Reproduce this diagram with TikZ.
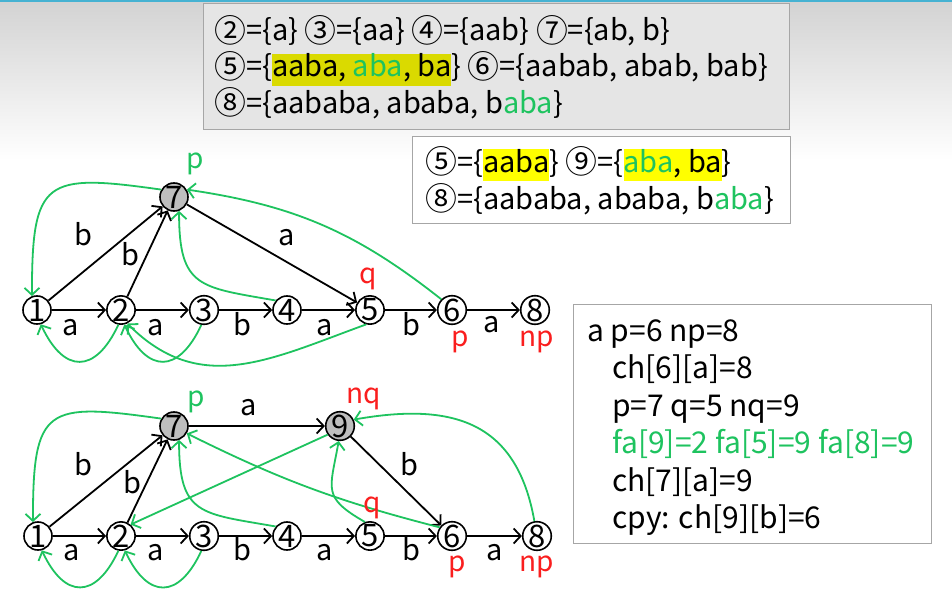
\documentclass[tikz,border=0pt]{standalone}
\usepackage{fontspec}
\setmainfont{Noto Sans CJK SC}
\usetikzlibrary{arrows.meta}
\definecolor{lkgreen}{RGB}{30,195,95}
\definecolor{mkred}{RGB}{250,30,30}
\definecolor{hlold}{RGB}{218,218,0}
\definecolor{hlnew}{RGB}{255,255,0}
\definecolor{stgray}{RGB}{190,190,190}
\definecolor{barcyan}{RGB}{70,178,210}
\setlength{\fboxsep}{0pt}
\newcommand{\hlt}[2]{\colorbox{#1}{\rule[-0.3em]{0pt}{1.1em}#2}}
\newcommand{\cn}[1]{\raisebox{-0.04em}{\scalebox{1.1}{#1}}}
\tikzset{
  >={Straight Barb[length=7pt,width=15pt]},
  st/.style={circle, draw, line width=1.6pt, minimum size=28pt, inner sep=0pt, font=\fontsize{31}{31}\selectfont},
  tr/.style={->, line width=1.8pt},
  lk/.style={->, line width=1.8pt, lkgreen},
  el/.style={anchor=base, inner sep=0pt, font=\fontsize{29}{29}\selectfont},
  mk/.style={anchor=base, inner sep=0pt, font=\fontsize{28}{28}\selectfont},
  txt/.style={anchor=base west, inner sep=0pt, font=\fontsize{29}{29}\selectfont},
  box/.style={draw=gray!70, line width=1pt}
}
\begin{document}
\begin{tikzpicture}[x=1pt,y=1pt]
\useasboundingbox (0,0) rectangle (952,-594);
\fill[white] (0,0) rectangle (952,-594);
\shade[top color=gray!35, bottom color=white] (0,0) rectangle (952,-160);
\fill[barcyan] (0,0) rectangle (952,-2.5);
\draw[box, fill=gray!20] (203,-4) rectangle (789,-129);
\node[txt] (r1) at (214,-41) {\cn{②}=\{a\} \cn{③}=\{aa\} \cn{④}=\{aab\} \cn{⑦}=\{ab, b\}};
\node[txt] (r2) at (214,-77) {\cn{⑤}=\{\hlt{hlold}{aaba, \textcolor{lkgreen}{aba}, ba}\} \cn{⑥}=\{aabab, abab, bab\}};
\node[txt] (r3) at (214,-113) {\cn{⑧}=\{aababa, ababa, b\textcolor{lkgreen}{aba}\}};
\draw[box, fill=white] (412,-136) rectangle (790,-223);
\node[txt] (n1) at (425,-172) {\cn{⑤}=\{\hlt{hlnew}{aaba}\} \cn{⑨}=\{\hlt{hlnew}{\textcolor{lkgreen}{aba}, ba}\}};
\node[txt] (n2) at (425,-209) {\cn{⑧}=\{aababa, ababa, b\textcolor{lkgreen}{aba}\}};
\draw[box, fill=white] (573,-304) rectangle (931,-543);
\node[txt, font=\fontsize{30}{30}\selectfont] (c1) at (587,-341) {a p=6 np=8};
\node[txt, font=\fontsize{30}{30}\selectfont] (c2) at (612,-378.5) {ch[6][a]=8};
\node[txt, font=\fontsize{30}{30}\selectfont] (c3) at (612,-416) {p=7 q=5 nq=9};
\node[txt, font=\fontsize{30}{30}\selectfont, text=lkgreen] (c4) at (612,-453.5) {fa[9]=2 fa[5]=9 fa[8]=9};
\node[txt, font=\fontsize{30}{30}\selectfont] (c5) at (612,-491) {ch[7][a]=9};
\node[txt, font=\fontsize{30}{30}\selectfont] (c6) at (612,-528.5) {cpy: ch[9][b]=6};

\node[st] (s1) at (37,-310) {1};
\node[st] (s2) at (121,-310) {2};
\node[st] (s3) at (204,-310) {3};
\node[st] (s4) at (287,-310) {4};
\node[st] (s5) at (370,-310) {5};
\node[st] (s6) at (452,-310) {6};
\node[st] (s8) at (535,-310) {8};
\node[st, fill=stgray] (s7) at (174,-197) {7};
\draw[tr] (s1) -- (s2);
\draw[tr] (s2) -- (s3);
\draw[tr] (s3) -- (s4);
\draw[tr] (s4) -- (s5);
\draw[tr] (s5) -- (s6);
\draw[tr] (s6) -- (s8);
\draw[tr] (s1) -- (s7);
\draw[tr] (s2) -- (s7);
\draw[tr] (s7) -- (s5);
\node[el] (sa1) at (71,-335) {a};
\node[el] (sa2) at (156,-335) {a};
\node[el] (sa3) at (242,-335) {b};
\node[el] (sa4) at (325,-335) {a};
\node[el] (sa5) at (411,-335) {b};
\node[el] (sa6) at (492,-332) {a};
\node[el] (sa7) at (83,-245) {b};
\node[el] (sa8) at (130,-265) {b};
\node[el] (sa9) at (287,-245) {a};
\draw[lk] (s7.150) to[out=172,in=90,looseness=1.8] (s1.110);
\draw[lk] (s2.260) to[out=245,in=295,looseness=1.8] (s1.285);
\draw[lk] (s3.260) to[out=245,in=295,looseness=1.8] (s2.283);
\draw[lk] (s5.255) to[out=200,in=315,looseness=1.1] (s2.295);
\draw[lk] (s4.140) to[out=170,in=270,looseness=1.5] (s7.290);
\draw[lk] (s6.135) to[bend right=15] (s7.30);
\node[mk, text=lkgreen] (sp) at (195,-168) {p};
\node[mk, text=mkred] (sq) at (368,-283) {q};
\node[mk, text=mkred] (sp2) at (460,-346) {p};
\node[mk, text=mkred] (snp) at (537,-346) {np};

\node[st] (t1) at (38,-536) {1};
\node[st] (t2) at (121,-536) {2};
\node[st] (t3) at (204,-536) {3};
\node[st] (t4) at (287,-536) {4};
\node[st] (t5) at (370,-536) {5};
\node[st] (t6) at (452,-536) {6};
\node[st] (t8) at (537,-536) {8};
\node[st, fill=stgray] (t7) at (174,-426) {7};
\node[st, fill=stgray] (t9) at (340,-426) {9};
\draw[tr] (t1) -- (t2);
\draw[tr] (t2) -- (t3);
\draw[tr] (t3) -- (t4);
\draw[tr] (t4) -- (t5);
\draw[tr] (t5) -- (t6);
\draw[tr] (t6) -- (t8);
\draw[tr] (t1) -- (t7);
\draw[tr] (t2) -- (t7);
\draw[tr] (t7) -- (t9);
\draw[tr] (t9) -- (t6);
\node[el] (ta1) at (72,-560) {a};
\node[el] (ta2) at (156,-560) {a};
\node[el] (ta3) at (242,-560) {b};
\node[el] (ta4) at (325,-560) {a};
\node[el] (ta5) at (411,-560) {b};
\node[el] (ta6) at (495,-560) {a};
\node[el] (ta7) at (83,-475) {b};
\node[el] (ta8) at (132,-493) {b};
\node[el] (ta9) at (249,-415) {a};
\node[el] (ta10) at (409,-475) {b};
\draw[lk] (t7.150) to[out=172,in=90,looseness=1.8] (t1.110);
\draw[lk] (t2.260) to[out=245,in=295,looseness=1.8] (t1.285);
\draw[lk] (t3.260) to[out=245,in=295,looseness=1.8] (t2.285);
\draw[lk] (t4.140) to[out=170,in=270,looseness=1.5] (t7.290);
\draw[lk] (t6.145) to[bend left=6] (t7.330);
\draw[lk] (t9.215) -- (t2.50);
\draw[lk] (t5.110) to[out=150,in=260,looseness=1.5] (t9.265);
\draw[lk] (t8.100) to[out=100,in=10,looseness=1.25] (t9.25);
\node[mk, text=lkgreen] (tp) at (196,-406) {p};
\node[mk, text=mkred] (tnq) at (364,-403) {nq};
\node[mk, text=mkred] (tq) at (372,-512) {q};
\node[mk, text=mkred] (tp2) at (457,-571) {p};
\node[mk, text=mkred] (tnp) at (537,-571) {np};
\end{tikzpicture}
\end{document}
